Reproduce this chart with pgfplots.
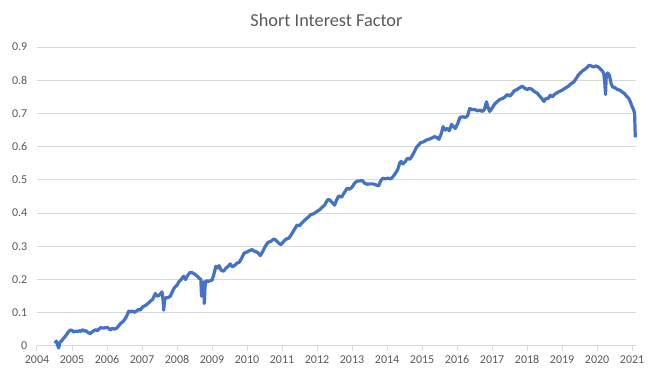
\documentclass[border=0pt]{standalone}
\usepackage{pgfplots}
\pgfplotsset{compat=1.18}
\usepackage{fontspec}
\setmainfont{Carlito}
\definecolor{txtgray}{HTML}{595959}
\definecolor{gridgray}{HTML}{D9D9D9}
\definecolor{linecol}{HTML}{4472C4}
\begin{document}
\begin{tikzpicture}
\path[use as bounding box] (-27.75pt,-21pt) rectangle (462pt,259.5pt);
\begin{axis}[
  scale only axis, width=449.5pt, height=224.25pt,
  xmin=2004, xmax=2021.12, ymin=0, ymax=0.9,
  xtick={2004,2005,...,2021},
  ytick={0,0.1,...,0.9},
  /pgf/number format/assume math mode=true,
  xticklabel style={/pgf/number format/1000 sep={}, font=\fontsize{9}{10}\selectfont, text=txtgray},
  yticklabel style={/pgf/number format/fixed, /pgf/number format/precision=1, font=\fontsize{9}{10}\selectfont, text=txtgray},
  axis line style={draw=none},
  ymajorgrids, xmajorgrids=false, grid style={draw=gridgray, line width=0.75pt},
  tick align=outside, xtick pos=bottom, ytick pos=left,
  x tick style={draw=gridgray, line width=0.75pt}, major tick length=3.75pt,
  y tick style={draw=none},
  clip=false,
]
\addplot[linecol, line width=2.4pt, line join=round] coordinates {
(2004.52,0.008) (2004.55,0.015) (2004.58,0.005) (2004.62,-0.006) (2004.65,0.010)
(2004.70,0.015) (2004.75,0.022) (2004.80,0.028) (2004.85,0.035) (2004.90,0.043)
(2004.95,0.048) (2005.00,0.047) (2005.05,0.042) (2005.10,0.045) (2005.15,0.043)
(2005.20,0.046) (2005.25,0.044) (2005.30,0.049) (2005.35,0.045) (2005.40,0.046)
(2005.45,0.041) (2005.52,0.037) (2005.58,0.043) (2005.67,0.049) (2005.72,0.046)
(2005.81,0.055) (2005.90,0.054) (2006.00,0.056) (2006.05,0.053) (2006.10,0.048)
(2006.15,0.053) (2006.22,0.051) (2006.28,0.054) (2006.33,0.060) (2006.38,0.067)
(2006.45,0.073) (2006.52,0.082) (2006.57,0.092) (2006.62,0.105) (2006.67,0.102)
(2006.72,0.106) (2006.78,0.101) (2006.85,0.106) (2006.90,0.110) (2006.95,0.108)
(2007.02,0.118) (2007.10,0.122) (2007.17,0.128) (2007.24,0.135) (2007.30,0.140)
(2007.38,0.158) (2007.43,0.150) (2007.48,0.152) (2007.53,0.157) (2007.57,0.163)
(2007.60,0.140) (2007.62,0.108) (2007.64,0.135) (2007.67,0.145) (2007.75,0.146)
(2007.81,0.150) (2007.86,0.162) (2007.92,0.175) (2008.00,0.183) (2008.05,0.193)
(2008.10,0.198) (2008.15,0.205) (2008.19,0.210) (2008.24,0.200) (2008.30,0.212)
(2008.38,0.222) (2008.45,0.220) (2008.52,0.215) (2008.58,0.210) (2008.64,0.203)
(2008.68,0.201) (2008.70,0.150) (2008.72,0.190) (2008.76,0.193) (2008.78,0.128)
(2008.80,0.180) (2008.83,0.196) (2008.90,0.195) (2009.00,0.198) (2009.05,0.215)
(2009.11,0.240) (2009.16,0.235) (2009.20,0.242) (2009.26,0.228) (2009.33,0.225)
(2009.40,0.235) (2009.46,0.240) (2009.52,0.247) (2009.58,0.238) (2009.65,0.243)
(2009.72,0.250) (2009.78,0.252) (2009.85,0.265) (2009.92,0.280) (2010.00,0.283)
(2010.07,0.287) (2010.14,0.290) (2010.22,0.285) (2010.30,0.282) (2010.38,0.272)
(2010.45,0.285) (2010.52,0.300) (2010.60,0.312) (2010.68,0.315) (2010.76,0.322)
(2010.83,0.318) (2010.90,0.310) (2010.97,0.305) (2011.05,0.315) (2011.12,0.322)
(2011.20,0.325) (2011.28,0.338) (2011.36,0.352) (2011.43,0.364) (2011.50,0.362)
(2011.58,0.372) (2011.67,0.381) (2011.75,0.388) (2011.81,0.395) (2011.90,0.398)
(2012.00,0.405) (2012.07,0.410) (2012.14,0.417) (2012.22,0.425) (2012.30,0.440)
(2012.36,0.440) (2012.43,0.432) (2012.50,0.424) (2012.56,0.440) (2012.62,0.452)
(2012.70,0.448) (2012.78,0.462) (2012.86,0.475) (2012.93,0.472) (2013.00,0.478)
(2013.07,0.490) (2013.14,0.496) (2013.22,0.497) (2013.29,0.498) (2013.36,0.490)
(2013.43,0.487) (2013.52,0.488) (2013.60,0.488) (2013.68,0.485) (2013.76,0.482)
(2013.82,0.498) (2013.88,0.505) (2013.95,0.503) (2014.03,0.505) (2014.10,0.503)
(2014.17,0.510) (2014.24,0.520) (2014.30,0.530) (2014.36,0.550) (2014.40,0.556)
(2014.45,0.548) (2014.52,0.555) (2014.58,0.565) (2014.65,0.562) (2014.72,0.573)
(2014.78,0.585) (2014.84,0.598) (2014.90,0.605) (2014.96,0.612) (2015.05,0.615)
(2015.12,0.620) (2015.19,0.622) (2015.28,0.626) (2015.35,0.630) (2015.42,0.628)
(2015.48,0.622) (2015.55,0.640) (2015.60,0.660) (2015.66,0.650) (2015.72,0.655)
(2015.78,0.648) (2015.84,0.667) (2015.90,0.660) (2015.95,0.655) (2016.02,0.670)
(2016.08,0.688) (2016.16,0.690) (2016.24,0.688) (2016.30,0.693) (2016.36,0.715)
(2016.42,0.712) (2016.50,0.712) (2016.58,0.708) (2016.66,0.710) (2016.72,0.706)
(2016.78,0.712) (2016.84,0.735) (2016.88,0.720) (2016.93,0.706) (2017.00,0.716)
(2017.07,0.728) (2017.14,0.735) (2017.22,0.742) (2017.30,0.745) (2017.37,0.750)
(2017.44,0.757) (2017.50,0.752) (2017.56,0.758) (2017.63,0.768) (2017.71,0.772)
(2017.78,0.777) (2017.86,0.782) (2017.93,0.776) (2018.00,0.772) (2018.07,0.776)
(2018.14,0.772) (2018.22,0.765) (2018.29,0.761) (2018.36,0.752) (2018.42,0.745)
(2018.48,0.736) (2018.54,0.745) (2018.60,0.745) (2018.66,0.755) (2018.72,0.750)
(2018.78,0.757) (2018.85,0.762) (2018.92,0.766) (2019.00,0.770) (2019.10,0.777)
(2019.18,0.782) (2019.26,0.790) (2019.33,0.794) (2019.40,0.805) (2019.46,0.815)
(2019.52,0.822) (2019.58,0.828) (2019.65,0.833) (2019.71,0.838) (2019.77,0.845)
(2019.83,0.843) (2019.90,0.840) (2019.96,0.843) (2020.03,0.840) (2020.10,0.833)
(2020.15,0.828) (2020.19,0.820) (2020.22,0.790) (2020.24,0.757) (2020.26,0.812)
(2020.30,0.822) (2020.35,0.815) (2020.40,0.790) (2020.44,0.780) (2020.50,0.778)
(2020.58,0.772) (2020.65,0.770) (2020.71,0.765) (2020.78,0.760) (2020.84,0.752)
(2020.90,0.746) (2020.95,0.735) (2021.00,0.720) (2021.04,0.712) (2021.07,0.700)
(2021.09,0.628)
};
\end{axis}
\node[font=\fontsize{13.7}{16}\selectfont, text=txtgray] at (217.1pt,244.5pt) {Short Interest Factor};
\end{tikzpicture}
\end{document}
